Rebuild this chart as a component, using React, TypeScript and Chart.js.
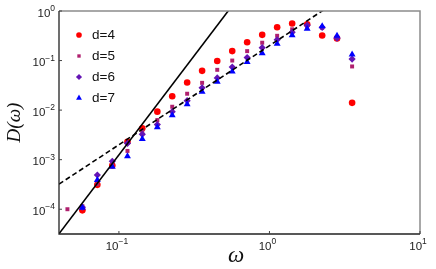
import React, { useEffect, useRef } from 'react';
import { Chart, registerables } from 'chart.js';
import { drawPoint } from 'chart.js/helpers';

Chart.register(...registerables);

// frequency values (x)
const omega = [0.0455, 0.0572, 0.0719, 0.0904, 0.114, 0.143, 0.18, 0.226, 0.284, 0.357, 0.45, 0.566, 0.711, 0.895, 1.125, 1.415, 1.78, 2.24, 2.81, 3.54];

// D(omega) for each d
const d4: (number | null)[] = [null, 9.5e-5, 3.1e-4, 7.6e-4, 2.3e-3, 4.3e-3, 9.3e-3, 0.019, 0.036, 0.062, 0.098, 0.155, 0.234, 0.33, 0.47, 0.56, 0.54, 0.32, 0.28, 0.014];
const d5: (number | null)[] = [1.0e-4, 1.15e-4, 3.2e-4, 8.3e-4, 1.5e-3, 3.8e-3, 6.3e-3, 0.0117, 0.0214, 0.0355, 0.065, 0.1, 0.155, 0.229, 0.316, 0.427, 0.49, 0.457, 0.288, 0.076];
const d6: (number | null)[] = [null, 1.1e-4, 4.9e-4, 9.3e-4, 2.14e-3, 3.24e-3, 5.1e-3, 9.3e-3, 0.0155, 0.0282, 0.0447, 0.074, 0.115, 0.182, 0.263, 0.372, 0.513, 0.468, 0.282, 0.107];
const d7: (number | null)[] = [null, 1.07e-4, 3.9e-4, 7.2e-4, 1.17e-3, 2.6e-3, 4.5e-3, 7.9e-3, 0.0132, 0.0234, 0.0372, 0.06, 0.093, 0.141, 0.219, 0.324, 0.437, 0.49, 0.316, 0.132];

// reference power-law lines (endpoints)
const steepX = [0.04, 0.6];
const steepY = [3.2e-5, 1.62];
const shallowX = [0.04, 3.0];
const shallowY = [3.2e-4, 1.8];

const seriesLabels = ['d=4', 'd=5', 'd=6', 'd=7'];
const seriesColors = ['#ff0000', '#b0206e', '#6414b4', '#0000ff'];
const seriesStyles = ['circle', 'rect', 'rectRot', 'triangle'];
const seriesRadius = [3.3, 2.8, 3.6, 4];

const xTicks = [0.1, 1, 10];
const xTickExp = ['\u22121', '0', '1'];
const yTicks = [1e-4, 1e-3, 1e-2, 1e-1, 1];
const yTickExp = ['\u22124', '\u22123', '\u22122', '\u22121', '0'];

const FONT = "'Liberation Sans', Arial, sans-serif";

const toPoints = (ys: (number | null)[]) =>
  omega.map((x, i) => ({ x, y: ys[i] })).filter((p) => p.y !== null) as { x: number; y: number }[];

const decor = {
  id: 'decor',
  afterDraw(chart: any) {
    const { ctx, chartArea } = chart;
    const { left, right, top, bottom } = chartArea;
    const xs = chart.scales.x;
    const ys = chart.scales.y;
    ctx.save();
    // frame
    ctx.lineWidth = 1.5;
    ctx.strokeStyle = '#8c8c8c';
    ctx.beginPath();
    ctx.moveTo(left, top);
    ctx.lineTo(right, top);
    ctx.lineTo(right, bottom);
    ctx.stroke();
    ctx.lineWidth = 1.3;
    ctx.strokeStyle = '#222';
    ctx.beginPath();
    ctx.moveTo(left, top);
    ctx.lineTo(left, bottom);
    ctx.lineTo(right, bottom);
    ctx.stroke();
    // inward ticks
    ctx.lineWidth = 1;
    ctx.strokeStyle = '#444';
    xTicks.forEach((v) => {
      const px = xs.getPixelForValue(v);
      ctx.beginPath();
      ctx.moveTo(px, bottom);
      ctx.lineTo(px, bottom - 3);
      ctx.stroke();
    });
    yTicks.forEach((v) => {
      const py = ys.getPixelForValue(v);
      ctx.beginPath();
      ctx.moveTo(left, py);
      ctx.lineTo(left + 3, py);
      ctx.stroke();
    });
    // tick labels
    ctx.fillStyle = '#222';
    ctx.textBaseline = 'alphabetic';
    ctx.textAlign = 'left';
    const baseFont = `11.5px ${FONT}`;
    const expFont = `8.5px ${FONT}`;
    yTicks.forEach((v, i) => {
      const py = ys.getPixelForValue(v);
      ctx.font = baseFont;
      const wb = ctx.measureText('10').width;
      ctx.font = expFont;
      const we = ctx.measureText(yTickExp[i]).width;
      const x0 = left - 4 - wb - we;
      ctx.font = baseFont;
      ctx.fillText('10', x0, py + 5.5);
      ctx.font = expFont;
      ctx.fillText(yTickExp[i], x0 + wb, py);
    });
    xTicks.forEach((v, i) => {
      const px = xs.getPixelForValue(v);
      ctx.font = baseFont;
      const wb = ctx.measureText('10').width;
      ctx.font = expFont;
      const we = ctx.measureText(xTickExp[i]).width;
      const x0 = px - (wb + we) / 2 - 2;
      ctx.font = baseFont;
      ctx.fillText('10', x0, bottom + 15.5);
      ctx.font = expFont;
      ctx.fillText(xTickExp[i], x0 + wb, bottom + 10);
    });
    // axis titles
    ctx.fillStyle = '#111';
    ctx.textAlign = 'center';
    ctx.textBaseline = 'middle';
    ctx.font = `italic 19px 'Liberation Serif', 'DejaVu Serif', serif`;
    ctx.save();
    ctx.translate(15, (top + bottom) / 2);
    ctx.rotate(-Math.PI / 2);
    ctx.fillText('D(\u03c9)', 0, 0);
    ctx.restore();
    ctx.font = `italic 23px 'Liberation Serif', 'DejaVu Serif', serif`;
    ctx.fillText('\u03c9', 236, 256);
    // legend
    const rows = [35, 56, 77, 98];
    seriesLabels.forEach((lab, i) => {
      ctx.fillStyle = seriesColors[i];
      drawPoint(ctx, { pointStyle: seriesStyles[i] as any, radius: seriesRadius[i] * 0.85, rotation: 0, borderWidth: 0 }, 79, rows[i]);
      ctx.fillStyle = '#111';
      ctx.textAlign = 'left';
      ctx.textBaseline = 'middle';
      ctx.font = `13.5px ${FONT}`;
      ctx.fillText(lab, 92, rows[i] + 0.5);
    });
    ctx.restore();
  },
};

export default function App() {
  const ref = useRef<HTMLCanvasElement>(null);
  useEffect(() => {
    const seriesData = [d4, d5, d6, d7];
    const pointSets = seriesData.map((ys, i) => ({
      label: seriesLabels[i],
      data: toPoints(ys),
      showLine: false,
      pointStyle: seriesStyles[i],
      pointRadius: seriesRadius[i],
      pointBackgroundColor: seriesColors[i],
      pointBorderWidth: 0,
      backgroundColor: seriesColors[i],
      borderColor: seriesColors[i],
      order: 4 - i + 1,
    }));
    const lineSets = [
      {
        label: 'steep',
        data: steepX.map((x, i) => ({ x, y: steepY[i] })),
        showLine: true,
        pointRadius: 0,
        borderColor: '#000',
        borderWidth: 1.6,
        order: 0,
      },
      {
        label: 'shallow',
        data: shallowX.map((x, i) => ({ x, y: shallowY[i] })),
        showLine: true,
        pointRadius: 0,
        borderColor: '#000',
        borderWidth: 1.6,
        borderDash: [5, 3],
        order: 0,
      },
    ];
    const chart = new Chart(ref.current as HTMLCanvasElement, {
      type: 'scatter',
      data: { datasets: [...pointSets, ...lineSets] as any },
      options: {
        animation: false,
        responsive: false,
        devicePixelRatio: 1,
        layout: { padding: { top: 11, right: 16, left: 0, bottom: 0 } },
        plugins: { legend: { display: false }, tooltip: { enabled: false } },
        scales: {
          x: {
            type: 'logarithmic',
            min: 0.04,
            max: 10,
            grid: { display: false, drawTicks: false },
            border: { display: false },
            ticks: { display: false },
            afterFit: (s: any) => {
              s.height = 35;
            },
          },
          y: {
            type: 'logarithmic',
            min: Math.pow(10, -4.5),
            max: 1,
            grid: { display: false, drawTicks: false },
            border: { display: false },
            ticks: { display: false },
            afterFit: (s: any) => {
              s.width = 59;
            },
          },
        },
      } as any,
      plugins: [decor],
    });
    return () => chart.destroy();
  }, []);
  return (
    <div style={{ position: 'absolute', left: 0, top: 0, width: 436, height: 269 }}>
      <canvas ref={ref} width={436} height={269} style={{ display: 'block', width: 436, height: 269 }} />
    </div>
  );
}
